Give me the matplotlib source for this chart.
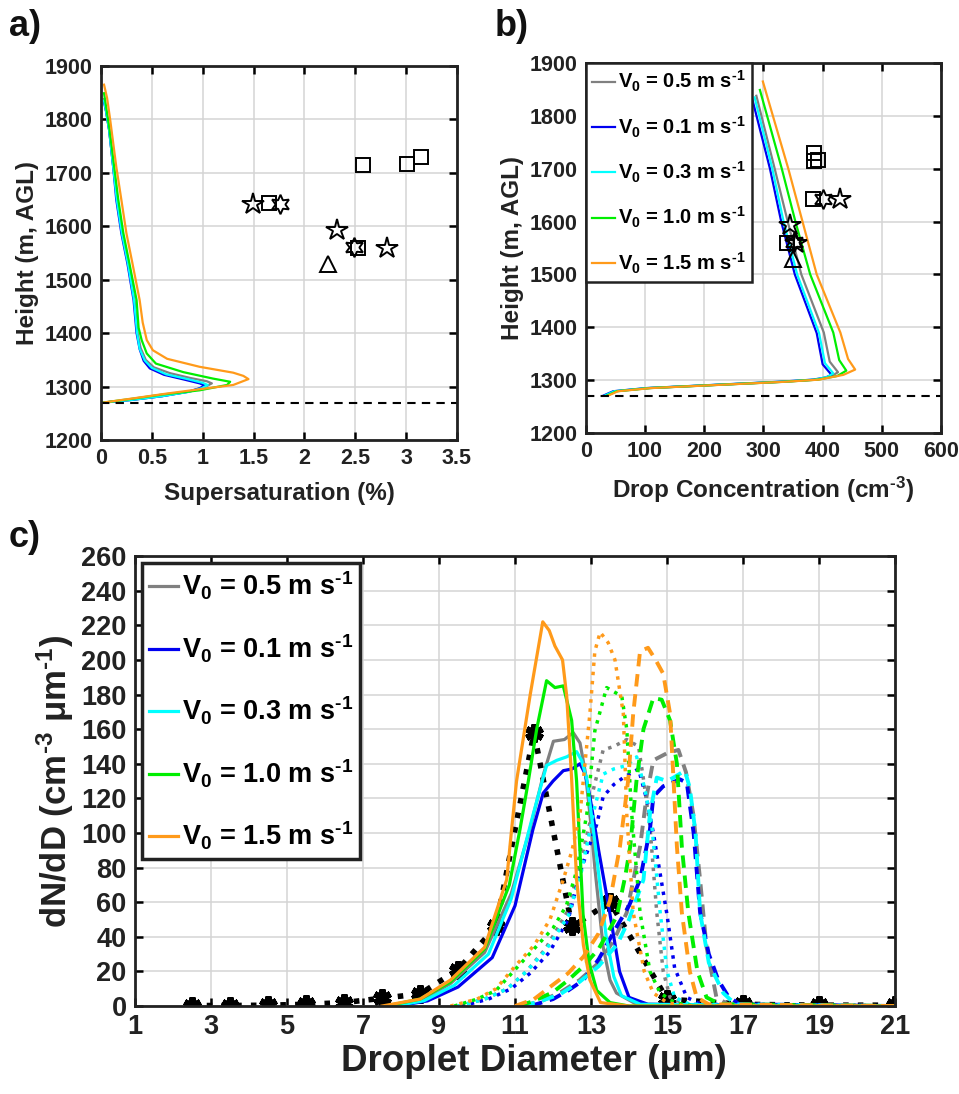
import numpy as np
import matplotlib.pyplot as plt

plt.rcParams['font.family'] = ['Liberation Sans', 'DejaVu Sans']
plt.rcParams['font.weight'] = 'bold'
plt.rcParams['mathtext.fontset'] = 'custom'
plt.rcParams['mathtext.rm'] = 'Liberation Sans:bold'
plt.rcParams['mathtext.it'] = 'Liberation Sans:bold'
plt.rcParams['mathtext.bf'] = 'Liberation Sans:bold'
plt.rcParams['mathtext.default'] = 'rm'

# velocities and colours (legend order)
v0_labels = ['0.5', '0.1', '0.3', '1.0', '1.5']
colors = ['#808080', '#0000F0', '#00FFFF', '#00EE00', '#FF9A1A']

# cloud base height
cloud_base = 1270

# ---- panel a: supersaturation profiles ----
a_S_gray = [0.02, 0.3, 0.6, 0.88, 1.02, 1.09, 1.04, 0.88, 0.68, 0.52, 0.44, 0.39, 0.36, 0.33, 0.27, 0.21, 0.16, 0.12, 0.08, 0.05, 0.03]
a_H_gray = [1270, 1275, 1282, 1291, 1299, 1306, 1310, 1316, 1325, 1336, 1350, 1372, 1400, 1462, 1530, 1587, 1650, 1711, 1780, 1815, 1838]
a_S_blue = [0.02, 0.3, 0.6, 0.85, 0.97, 1.02, 0.97, 0.82, 0.62, 0.48, 0.42, 0.38, 0.35, 0.32, 0.26, 0.2, 0.15, 0.12, 0.08, 0.05, 0.03]
a_H_blue = [1270, 1275, 1282, 1290, 1297, 1302, 1306, 1313, 1322, 1334, 1348, 1370, 1400, 1462, 1530, 1587, 1650, 1711, 1780, 1815, 1832]
a_S_cyan = [0.02, 0.3, 0.6, 0.86, 0.99, 1.05, 1.0, 0.85, 0.64, 0.5, 0.43, 0.38, 0.355, 0.325, 0.265, 0.205, 0.155, 0.12, 0.08, 0.05, 0.03]
a_H_cyan = [1270, 1275, 1282, 1290, 1297, 1303, 1307, 1314, 1323, 1335, 1349, 1371, 1400, 1462, 1530, 1587, 1650, 1711, 1780, 1815, 1835]
a_S_green = [0.02, 0.3, 0.6, 0.97, 1.24, 1.27, 1.1, 0.81, 0.54, 0.45, 0.4, 0.37, 0.35, 0.28, 0.22, 0.17, 0.13, 0.085, 0.055, 0.03]
a_H_green = [1270, 1277, 1285, 1293, 1303, 1309, 1315, 1327, 1343, 1362, 1387, 1410, 1462, 1530, 1587, 1650, 1711, 1780, 1818, 1849]
a_S_orange = [0.02, 0.32, 0.65, 0.97, 1.3, 1.45, 1.4, 1.3, 0.97, 0.65, 0.51, 0.45, 0.41, 0.38, 0.31, 0.25, 0.2, 0.15, 0.09, 0.06, 0.03]
a_H_orange = [1270, 1278, 1287, 1295, 1303, 1314, 1320, 1326, 1337, 1352, 1368, 1387, 1420, 1462, 1530, 1587, 1650, 1712, 1800, 1840, 1865]

# ---- panel b: drop concentration profiles ----
b_N_gray = [34, 50, 106, 220, 334, 390, 414, 426, 412, 402, 364, 341, 319, 288]
b_H_gray = [1271, 1279, 1285, 1291, 1297, 1301, 1307, 1315, 1335, 1390, 1500, 1600, 1700, 1838]
b_N_blue = [30, 46, 102, 215, 328, 384, 405, 415, 400, 390, 353, 330, 311, 281]
b_H_blue = [1271, 1279, 1285, 1291, 1297, 1301, 1305, 1310, 1330, 1389, 1500, 1600, 1700, 1832]
b_N_cyan = [32, 48, 104, 218, 331, 387, 408, 418, 404, 394, 357, 334, 315, 285]
b_H_cyan = [1271, 1279, 1285, 1291, 1297, 1301, 1306, 1313, 1332, 1389, 1500, 1600, 1700, 1835]
b_N_green = [36, 52, 108, 222, 336, 392, 425, 440, 428, 418, 379, 354, 331, 294]
b_H_green = [1271, 1279, 1285, 1291, 1297, 1301, 1308, 1318, 1338, 1390, 1500, 1600, 1700, 1849]
b_N_orange = [38, 54, 110, 224, 338, 394, 435, 455, 443, 430, 390, 366, 342, 299]
b_H_orange = [1271, 1279, 1285, 1291, 1297, 1301, 1310, 1320, 1340, 1390, 1500, 1600, 1700, 1865]

# observations (same heights in a and b)
obs_star_S = [1.49, 2.32, 2.81]
obs_star_N = [429, 345, 355]
obs_star_H = [1642, 1593, 1560]
obs_hex_S = [1.76, 2.49]
obs_hex_N = [401, 352]
obs_hex_H = [1642, 1562]
obs_sq_S = [1.65, 2.58, 3.01, 3.15, 2.53]
obs_sq_N = [384, 386, 392, 385, 340]
obs_sq_H = [1643, 1715, 1716, 1730, 1559]
obs_tri_S = [2.23]
obs_tri_N = [350]
obs_tri_H = [1530]

# ---- panel c: droplet size distributions ----
sol_gray_x = [7.7, 8.5, 9.3, 10.2, 10.9, 11.39, 11.75, 12.01, 12.3, 12.53, 12.71, 12.85, 12.97, 13.1, 13.32, 13.5, 13.67, 14.2, 21]
sol_gray_y = [0, 3, 13, 31, 65, 102, 134, 153, 154, 158, 152, 135, 111, 80, 34, 15, 7.5, 1, 0]
sol_blue_x = [7.9, 8.7, 9.5, 10.4, 11.0, 11.47, 11.74, 12.0, 12.27, 12.5, 12.71, 12.85, 12.97, 13.2, 13.5, 13.75, 14.0, 14.5, 21]
sol_blue_y = [0, 3, 11, 28, 58, 102, 123, 130, 136, 137, 140, 134, 121, 90, 53, 20, 5, 1, 0]
sol_cyan_x = [7.8, 8.6, 9.4, 10.3, 10.9, 11.48, 11.83, 12.1, 12.36, 12.62, 12.75, 12.89, 13.1, 13.4, 13.6, 13.8, 14.3, 21]
sol_cyan_y = [0, 3, 12, 30, 62, 111, 139, 142, 144, 147, 142, 131, 95, 40, 17, 6, 1, 0]
sol_green_x = [7.6, 8.5, 9.3, 10.2, 10.85, 11.13, 11.35, 11.57, 11.83, 12.05, 12.27, 12.49, 12.62, 12.79, 12.95, 13.15, 13.5, 14, 21]
sol_green_y = [0, 4, 14, 33, 70, 102, 130, 160, 188, 184, 185, 165, 130, 53, 25, 9, 2, 0, 0]
sol_orange_x = [7.5, 8.5, 9.3, 10.2, 10.78, 10.91, 11.04, 11.4, 11.73, 11.9, 12.05, 12.25, 12.36, 12.49, 12.62, 12.8, 12.97, 13.25, 14, 21]
sol_orange_y = [0, 4, 15, 34, 73, 102, 130, 180, 222, 217, 208, 200, 179, 131, 73, 35, 15, 2, 0, 0]

dot_gray_x = [9.5, 10.2, 10.8, 11.3, 11.8, 12.36, 12.7, 12.97, 13.06, 13.32, 13.6, 13.94, 14.25, 14.38, 14.55, 14.73, 14.9, 15.08, 15.5, 21]
dot_gray_y = [0, 4, 10, 20, 33, 54, 80, 106, 125, 148, 150, 154, 150, 131, 104, 54, 20, 5, 1, 0]
dot_blue_x = [9.6, 10.3, 10.9, 11.4, 11.9, 12.4, 12.71, 13.15, 13.32, 13.6, 13.85, 14.25, 14.47, 14.64, 14.99, 15.2, 15.52, 15.9, 21]
dot_blue_y = [0, 4, 10, 19, 31, 50, 77, 105, 121, 128, 132, 137, 119, 100, 54, 22, 5, 1, 0]
dot_cyan_x = [9.5, 10.2, 10.8, 11.3, 11.8, 12.4, 12.75, 13.1, 13.32, 13.6, 13.94, 14.2, 14.42, 14.6, 14.82, 15.0, 15.2, 15.6, 21]
dot_cyan_y = [0, 4, 10, 20, 32, 52, 78, 115, 134, 137, 139, 144, 125, 104, 54, 20, 5, 1, 0]
dot_green_x = [9.4, 10.0, 10.5, 11.04, 11.5, 12.0, 12.35, 12.62, 12.89, 13.1, 13.41, 13.81, 13.94, 14.07, 14.29, 14.55, 14.82, 15.2, 15.7, 21]
dot_green_y = [0, 4, 9, 22, 33, 45, 58, 78, 111, 159, 184, 179, 160, 111, 54, 20, 7.5, 2, 0, 0]
dot_orange_x = [9.3, 10.0, 10.5, 11.04, 11.5, 11.92, 12.27, 12.5, 12.71, 12.97, 13.1, 13.24, 13.45, 13.63, 13.85, 13.94, 14.11, 14.4, 14.64, 15.0, 15.5, 21]
dot_orange_y = [0, 4, 10, 24, 35, 50, 73, 90, 111, 169, 205, 216, 210, 200, 169, 111, 54, 20, 7.5, 2, 0, 0]

dash_gray_x = [11.2, 11.7, 12.2, 12.7, 13.2, 13.6, 13.94, 14.29, 14.46, 14.64, 14.99, 15.3, 15.5, 15.69, 15.87, 16.04, 16.3, 16.6, 21]
dash_gray_y = [0, 3, 8, 15, 25, 38, 54, 92, 121, 142, 146, 148, 135, 111, 73, 34, 5, 1, 0]
dash_blue_x = [11.4, 12.0, 12.4, 12.8, 13.2, 13.68, 14.0, 14.29, 14.55, 14.64, 14.9, 15.34, 15.52, 15.7, 15.87, 16.1, 16.35, 16.6, 16.9, 21]
dash_blue_y = [0, 4, 9, 15, 27, 46, 58, 73, 102, 121, 127, 131, 129, 100, 54, 30, 15, 6, 1, 0]
dash_cyan_x = [11.2, 11.7, 12.2, 12.7, 13.2, 13.7, 14.0, 14.38, 14.55, 14.73, 15.0, 15.17, 15.47, 15.6, 15.75, 15.87, 16.1, 16.48, 16.8, 21]
dash_cyan_y = [0, 3, 7, 14, 23, 36, 50, 73, 111, 132, 130, 132, 136, 126, 100, 54, 25, 7.5, 1, 0]
dash_green_x = [11.1, 11.5, 12.0, 12.4, 12.8, 13.2, 13.68, 13.9, 14.03, 14.2, 14.38, 14.64, 14.86, 15.08, 15.26, 15.39, 15.56, 15.8, 16.04, 16.4, 21]
dash_green_y = [0, 3, 8, 15, 23, 33, 52, 75, 92, 131, 160, 178, 177, 165, 140, 92, 54, 20, 5, 1, 0]
dash_orange_x = [11.0, 11.5, 11.92, 12.4, 12.8, 13.2, 13.5, 13.76, 13.98, 14.11, 14.29, 14.5, 14.7, 14.9, 15.08, 15.17, 15.26, 15.39, 15.6, 15.78, 16.1, 21]
dash_orange_y = [0, 4, 11, 19, 28.5, 42, 61, 92, 131, 169, 205, 207, 200, 192, 169, 131, 92, 54, 20, 5, 1, 0]

obs_d = [2.5, 3.5, 4.5, 5.5, 6.5, 7.5, 8.5, 9.5, 10.5, 11.5, 12.5, 13.5, 15, 17, 19, 21]
obs_dndd = [0.3, 0.3, 0.5, 1, 2, 4.5, 7, 21, 46, 158, 46, 60, 4, 1, 0.5, 0.5]

a_S = [a_S_gray, a_S_blue, a_S_cyan, a_S_green, a_S_orange]
a_H = [a_H_gray, a_H_blue, a_H_cyan, a_H_green, a_H_orange]
b_N = [b_N_gray, b_N_blue, b_N_cyan, b_N_green, b_N_orange]
b_H = [b_H_gray, b_H_blue, b_H_cyan, b_H_green, b_H_orange]
sol = [(sol_gray_x, sol_gray_y), (sol_blue_x, sol_blue_y), (sol_cyan_x, sol_cyan_y),
       (sol_green_x, sol_green_y), (sol_orange_x, sol_orange_y)]
dot = [(dot_gray_x, dot_gray_y), (dot_blue_x, dot_blue_y), (dot_cyan_x, dot_cyan_y),
       (dot_green_x, dot_green_y), (dot_orange_x, dot_orange_y)]
dash = [(dash_gray_x, dash_gray_y), (dash_blue_x, dash_blue_y), (dash_cyan_x, dash_cyan_y),
        (dash_green_x, dash_green_y), (dash_orange_x, dash_orange_y)]

leg_labels = [r'V$_{0}$ = %s m s$^{\text{-}1}$' % v for v in v0_labels]


def style_axes(ax, fs):
    ax.grid(True, color='#d4d4d4', lw=1.1)
    ax.set_axisbelow(True)
    ax.tick_params(direction='in', top=True, right=True, labelsize=fs,
                   length=6, width=1.8, pad=6)
    for s in ax.spines.values():
        s.set_linewidth(2)
        s.set_color('#222222')
    for lab in ax.get_xticklabels() + ax.get_yticklabels():
        lab.set_fontweight('bold')
        lab.set_color('#222222')


fig = plt.figure(figsize=(9.59, 10.94), dpi=100)

mk = dict(mfc='none', mec='k', mew=1.4, ls='none')

# panel a
ax1 = fig.add_axes([0.1053, 0.5978, 0.3712, 0.3419])
for S, H, c in zip(a_S, a_H, colors):
    ax1.plot(S, H, color=c, lw=1.6)
ax1.axhline(cloud_base, color='k', ls='--', lw=1.5, dashes=(4, 3))
ax1.plot(obs_star_S, obs_star_H, marker='*', ms=16, **mk)
ax1.plot(obs_hex_S, obs_hex_H, marker=(6, 1, 0), ms=14, **mk)
ax1.plot(obs_sq_S, obs_sq_H, marker='s', ms=10, **mk)
ax1.plot(obs_tri_S, obs_tri_H, marker='^', ms=12, **mk)
ax1.set_xlim(0, 3.5)
ax1.set_ylim(1200, 1900)
ax1.set_xticks(np.arange(0, 3.51, 0.5))
ax1.set_xticklabels(['0', '0.5', '1', '1.5', '2', '2.5', '3', '3.5'])
ax1.set_yticks(np.arange(1200, 1901, 100))
style_axes(ax1, 15.5)
ax1.set_xlabel('Supersaturation (%)', fontsize=17.5, fontweight='bold', color='#222222', labelpad=9)
ax1.set_ylabel('Height (m, AGL)', fontsize=17.5, fontweight='bold', color='#222222')
fig.text(0.009, 0.992, 'a)', fontsize=26, fontweight='bold', va='top', color='#111111')

# panel b
ax2 = fig.add_axes([0.611, 0.6042, 0.3702, 0.3382])
lines = []
for N, H, c, lab in zip(b_N, b_H, colors, leg_labels):
    ln, = ax2.plot(N, H, color=c, lw=1.6, label=lab)
    lines.append(ln)
ax2.axhline(cloud_base, color='k', ls='--', lw=1.5, dashes=(4, 3))
ax2.plot(obs_star_N, obs_star_H, marker='*', ms=16, **mk)
ax2.plot(obs_hex_N, obs_hex_H, marker=(6, 1, 0), ms=14, **mk)
ax2.plot(obs_sq_N, obs_sq_H, marker='s', ms=10, **mk)
ax2.plot(obs_tri_N, obs_tri_H, marker='^', ms=12, **mk)
ax2.set_xlim(0, 600)
ax2.set_ylim(1200, 1900)
ax2.set_xticks(np.arange(0, 601, 100))
ax2.set_yticks(np.arange(1200, 1901, 100))
style_axes(ax2, 15.5)
ax2.set_xlabel(r'Drop Concentration (cm$^{\text{-}3}$)', fontsize=17.5, fontweight='bold',
               color='#222222', labelpad=9)
ax2.set_ylabel('Height (m, AGL)', fontsize=17.5, fontweight='bold', color='#222222')
leg = ax2.legend(handles=lines, loc='upper left', fontsize=14.5, handlelength=1.15,
                 handletextpad=0.15, labelspacing=1.0, borderaxespad=0.0,
                 borderpad=0.3, fancybox=False, framealpha=1, edgecolor='#222222')
leg.get_frame().set_linewidth(1.8)
fig.text(0.516, 0.992, 'b)', fontsize=26, fontweight='bold', va='top', color='#111111')

# panel c
ax3 = fig.add_axes([0.1408, 0.0804, 0.7925, 0.4113])
ax3.plot(obs_d, obs_dndd, color='k', ls=':', lw=4, marker=(6, 2, 0), ms=13, mew=4.5)
clines = []
for (sx, sy), (dx, dy), (ex, ey), c, lab in zip(sol, dot, dash, colors, leg_labels):
    ln, = ax3.plot(sx, sy, color=c, lw=2.3, label=lab)
    ax3.plot(dx, dy, color=c, lw=2.5, ls=':')
    ax3.plot(ex, ey, color=c, lw=2.8, ls=(0, (3.2, 2)))
    clines.append(ln)
ax3.set_xlim(1, 21)
ax3.set_ylim(0, 260)
ax3.set_xticks(np.arange(1, 22, 2))
ax3.set_yticks(np.arange(0, 261, 20))
style_axes(ax3, 19.5)
ax3.set_xlabel('Droplet Diameter (μm)', fontsize=26.5, fontweight='bold', color='#222222')
ax3.xaxis.set_label_coords(0.525, -0.085)
ax3.set_ylabel(r'dN/dD (cm$^{\text{-}3}$ μm$^{\text{-}1}$)', fontsize=25, fontweight='bold', color='#222222')
leg3 = ax3.legend(handles=clines, loc='upper left', fontsize=19.5, handlelength=1.1,
                  handletextpad=0.15, labelspacing=1.12, borderaxespad=0.25,
                  borderpad=0.25, fancybox=False, framealpha=1, edgecolor='#222222')
leg3.get_frame().set_linewidth(2.5)
fig.text(0.009, 0.525, 'c)', fontsize=26, fontweight='bold', va='top', color='#111111')

fig.savefig('out.png', dpi=100)
